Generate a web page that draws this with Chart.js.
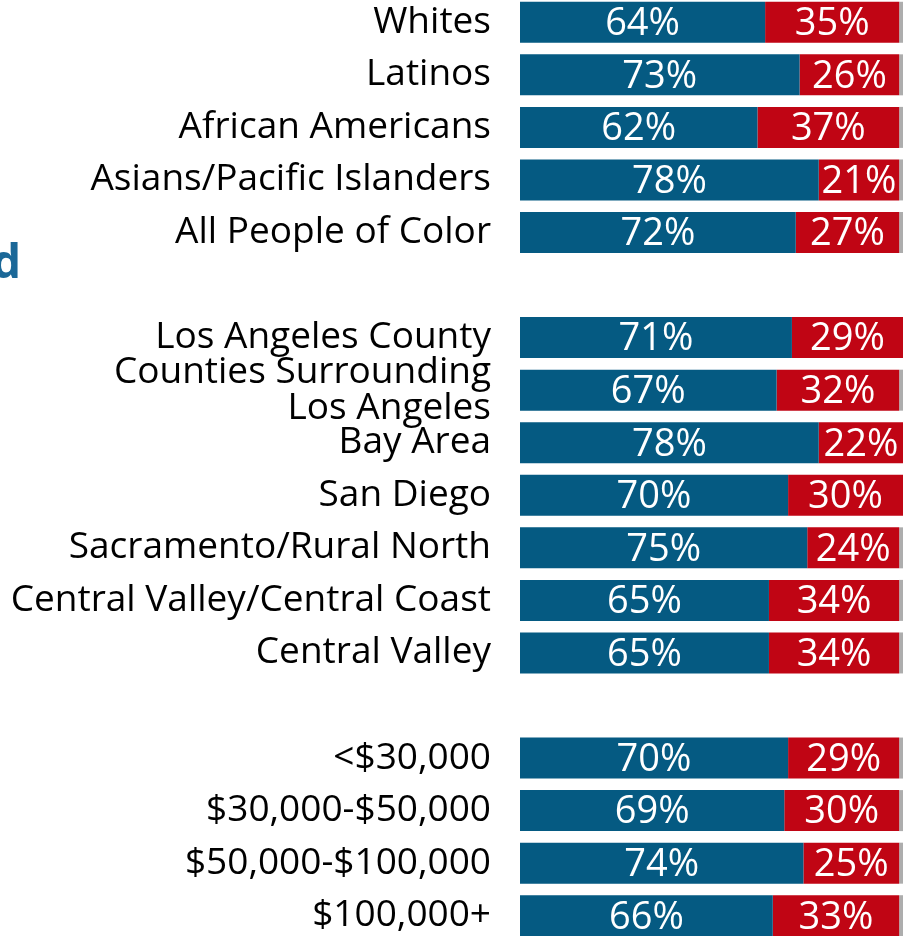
<!DOCTYPE html>
<html>
<head>
<meta charset="utf-8">
<script src="https://cdn.jsdelivr.net/npm/chart.js@4"></script>
<style>
  html, body { margin: 0; padding: 0; background: #fff; overflow: hidden; }
  #wrap { position: relative; width: 905px; height: 936px; overflow: hidden; }
  #chart { position: absolute; left: 0; top: -4px; }
</style>
</head>
<body>
<div id="wrap"><canvas id="chart" width="905" height="946"></canvas></div>
<script>
// categories, blank entries are the gaps between groups
const categories = [
    "Whites", "Latinos", "African Americans", "Asians/Pacific Islanders", "All People of Color",
    "",
    "Los Angeles County", ["Counties Surrounding", "Los Angeles"], "Bay Area", "San Diego",
    "Sacramento/Rural North", "Central Valley/Central Coast", "Central Valley",
    "",
    "<$30,000", "$30,000-$50,000", "$50,000-$100,000", "$100,000+"
];
const blueValues = [64, 73, 62, 78, 72, null, 71, 67, 78, 70, 75, 65, 65, null, 70, 69, 74, 66];
const redValues  = [35, 26, 37, 21, 27, null, 29, 32, 22, 30, 24, 34, 34, null, 29, 30, 25, 33];
const grayValues = [1, 1, 1, 1, 1, null, 1, 1, 0, 1, 1, 1, 1, null, 1, 1, 1, 1];

const BLUE = "#055a82";
const RED = "#c00514";
const GRAY = "#adadad";

// white % labels centred in blue and red segments
const segmentLabels = {
    id: "segmentLabels",
    afterDatasetsDraw(chart) {
        const ctx = chart.ctx;
        ctx.save();
        ctx.fillStyle = "#ffffff";
        ctx.font = "38px 'Open Sans'";
        ctx.textAlign = "center";
        ctx.textBaseline = "middle";
        [0, 1].forEach(i => {
            const meta = chart.getDatasetMeta(i);
            const vals = chart.data.datasets[i].data;
            meta.data.forEach((bar, j) => {
                if (vals[j] == null) return;
                ctx.fillText(vals[j] + "%", (bar.x + bar.base) / 2, bar.y + 2);
            });
        });
        ctx.restore();
    }
};

// clipped heading at the left edge
const sideHeading = {
    id: "sideHeading",
    afterDraw(chart) {
        const ctx = chart.ctx;
        ctx.save();
        ctx.fillStyle = "#1b6898";
        ctx.font = "bold 46px 'Open Sans'";
        ctx.textAlign = "right";
        ctx.textBaseline = "alphabetic";
        ctx.fillText("d", 21, 282);
        ctx.restore();
    }
};

new Chart(document.getElementById("chart").getContext("2d"), {
    type: "bar",
    data: {
        labels: categories,
        datasets: [
            { data: blueValues, backgroundColor: BLUE },
            { data: redValues, backgroundColor: RED },
            { data: grayValues, backgroundColor: GRAY }
        ]
    },
    options: {
        indexAxis: "y",
        responsive: false,
        animation: false,
        devicePixelRatio: 1,
        layout: { padding: { left: 0, right: 2, top: 0, bottom: 0 } },
        datasets: { bar: { categoryPercentage: 1, barPercentage: 0.78, borderWidth: 0 } },
        plugins: {
            legend: { display: false },
            tooltip: { enabled: false }
        },
        scales: {
            x: { stacked: true, display: false, min: 0, max: 100 },
            y: {
                stacked: true,
                grid: { display: false, drawTicks: false },
                border: { display: false },
                ticks: {
                    color: "#000",
                    padding: 29,
                    autoSkip: false,
                    font: { family: "'Open Sans'", size: 37, lineHeight: 0.97 }
                },
                afterFit(scale) {
                    scale.width = 520;
                    scale.paddingTop = 0;
                    scale.paddingBottom = 0;
                }
            }
        }
    },
    plugins: [segmentLabels, sideHeading]
});
</script>
</body>
</html>
